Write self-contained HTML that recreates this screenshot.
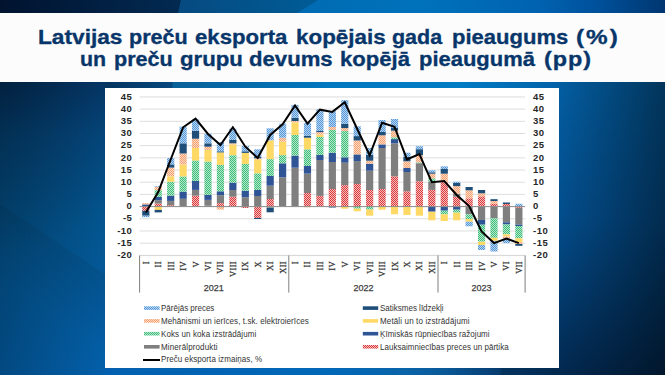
<!DOCTYPE html>
<html><head><meta charset="utf-8">
<style>
html,body{margin:0;padding:0;}
body{width:665px;height:375px;overflow:hidden;position:relative;font-family:"Liberation Sans",sans-serif;background:#0a3a6e;}
#bg{position:absolute;left:0;top:0;}
#title{position:absolute;left:0;top:12.5px;width:665px;height:69px;background:#fcfcfc;}
.t{position:absolute;white-space:nowrap;color:#08366a;-webkit-text-stroke:0.35px #08366a;font-weight:bold;font-size:22px;line-height:25px;transform-origin:0 20.1px;}
#chart{position:absolute;left:105px;top:88px;width:454px;height:280px;background:#fff;}
#svg{position:absolute;left:0;top:0;}
.yl,.yr{position:absolute;font-weight:bold;font-size:9.5px;line-height:11px;color:#262626;white-space:nowrap;letter-spacing:0.5px;}
.yl{right:532.6px;text-align:right;}
.yr{left:533px;}
.xl{position:absolute;top:261.3px;letter-spacing:0.35px;width:10px;margin-left:-5px;writing-mode:vertical-rl;transform:rotate(180deg);font-family:"Liberation Serif",serif;font-size:8.5px;line-height:10px;color:#333;-webkit-text-stroke:0.25px #333;}
.xl span{}
.yr2{}
.lg{position:absolute;font-size:8px;line-height:11px;color:#333;white-space:nowrap;transform:scaleY(1.1);transform-origin:0 8.14px;}
.yr3{}
.yrx{}
.yrlab{position:absolute;top:283.7px;width:100px;text-align:center;font-size:9px;line-height:9px;color:#404040;-webkit-text-stroke:0.25px #404040;}
</style></head><body>
<svg id="bg" width="665" height="375" viewBox="0 0 665 375">
<defs>
<linearGradient id="gT1" gradientUnits="userSpaceOnUse" x1="0" y1="0" x2="182" y2="0">
<stop offset="0" stop-color="#01132f"/><stop offset="1" stop-color="#022a52"/>
</linearGradient>
<linearGradient id="gT2" gradientUnits="userSpaceOnUse" x1="178" y1="0" x2="318" y2="0">
<stop offset="0" stop-color="#064a80"/><stop offset="1" stop-color="#005c96"/>
</linearGradient>
<linearGradient id="gT3" gradientUnits="userSpaceOnUse" x1="297" y1="0" x2="665" y2="0">
<stop offset="0" stop-color="#006bb2"/><stop offset="0.33" stop-color="#0072bb"/><stop offset="0.66" stop-color="#0062b0"/><stop offset="0.82" stop-color="#00509a"/><stop offset="1" stop-color="#003670"/>
</linearGradient>
<linearGradient id="gLv" gradientUnits="userSpaceOnUse" x1="0" y1="81" x2="0" y2="375">
<stop offset="0" stop-color="#043a6e"/><stop offset="0.18" stop-color="#044b84"/><stop offset="0.47" stop-color="#03558f"/><stop offset="1" stop-color="#0360aa"/>
</linearGradient>
<radialGradient id="gLr" gradientUnits="userSpaceOnUse" cx="0" cy="81" r="170">
<stop offset="0" stop-color="#000" stop-opacity="0.25"/><stop offset="1" stop-color="#000" stop-opacity="0"/>
</radialGradient>
<linearGradient id="gLh" gradientUnits="userSpaceOnUse" x1="0" y1="0" x2="105" y2="0">
<stop offset="0" stop-color="#000" stop-opacity="0.24"/><stop offset="1" stop-color="#000" stop-opacity="0"/>
</linearGradient>
<linearGradient id="gRv" gradientUnits="userSpaceOnUse" x1="0" y1="81" x2="0" y2="375">
<stop offset="0" stop-color="#035ea2"/><stop offset="0.47" stop-color="#034d8c"/><stop offset="1" stop-color="#02284f"/>
</linearGradient>
<linearGradient id="gRh" gradientUnits="userSpaceOnUse" x1="559" y1="0" x2="665" y2="0">
<stop offset="0" stop-color="#000" stop-opacity="0"/><stop offset="1" stop-color="#000" stop-opacity="0.44"/>
</linearGradient>
<linearGradient id="gS" gradientUnits="userSpaceOnUse" x1="105" y1="0" x2="559" y2="0">
<stop offset="0" stop-color="#04345f"/><stop offset="0.147" stop-color="#06487e"/><stop offset="0.15" stop-color="#0a6098"/><stop offset="0.5" stop-color="#0078c0"/><stop offset="0.78" stop-color="#007cc4"/><stop offset="1" stop-color="#0060a8"/>
</linearGradient>
<linearGradient id="gB" gradientUnits="userSpaceOnUse" x1="105" y1="0" x2="559" y2="0">
<stop offset="0" stop-color="#0360b0"/><stop offset="0.5" stop-color="#0068b8"/><stop offset="0.66" stop-color="#0a64a8"/><stop offset="0.74" stop-color="#0a5a9a"/><stop offset="0.868" stop-color="#073c70"/><stop offset="0.875" stop-color="#04325e"/><stop offset="1" stop-color="#022a50"/>
</linearGradient>
<linearGradient id="gLd" gradientUnits="userSpaceOnUse" x1="53" y1="239.5" x2="18" y2="292.5">
<stop offset="0" stop-color="#000" stop-opacity="0.07"/><stop offset="1" stop-color="#000" stop-opacity="0"/>
</linearGradient>
</defs>
<rect x="0" y="0" width="665" height="375" fill="#0a4a88"/>
<rect x="0" y="0" width="182" height="13" fill="url(#gT1)"/>
<polygon points="181,0 318,0 297,13 178,13" fill="url(#gT2)"/>
<polygon points="318,0 665,0 665,13 297,13" fill="url(#gT3)"/>
<rect x="0" y="80" width="105" height="295" fill="url(#gLv)"/>
<rect x="0" y="80" width="105" height="295" fill="url(#gLh)"/>
<rect x="0" y="80" width="105" height="295" fill="url(#gLr)"/>
<polygon points="0,204 106,275 106,375 0,375" fill="url(#gLd)"/>
<rect x="559" y="80" width="106" height="295" fill="url(#gRv)"/>
<rect x="559" y="80" width="106" height="295" fill="url(#gRh)"/>
<rect x="105" y="81" width="454" height="7" fill="url(#gS)"/>
<rect x="105" y="368" width="454" height="7" fill="url(#gB)"/>
</svg>
<div id="title"></div>
<div class="t" style="left:37.97px;top:23.9px;letter-spacing:0px;transform:scale(1.0312,0.93)">Latvijas</div>
<div class="t" style="left:128.82px;top:23.9px;letter-spacing:0px;transform:scale(0.9810,0.93)">preču</div>
<div class="t" style="left:195.29px;top:23.9px;letter-spacing:0px;transform:scale(1.0077,0.93)">eksporta</div>
<div class="t" style="left:296.28px;top:23.9px;letter-spacing:0px;transform:scale(1.0186,0.93)">kopējais</div>
<div class="t" style="left:392.22px;top:23.9px;letter-spacing:0px;transform:scale(0.9765,0.93)">gada</div>
<div class="t" style="left:451.6px;top:23.9px;letter-spacing:0px;transform:scale(1.0009,0.93)">pieaugums</div>
<div class="t" style="left:575.5px;top:23.9px;letter-spacing:1.8px;transform:scale(1.1038,0.93)">(%)</div>
<div class="t" style="left:79.93px;top:45.9px;letter-spacing:0px;transform:scale(0.9720,0.93)">un</div>
<div class="t" style="left:113.92px;top:45.9px;letter-spacing:0px;transform:scale(0.9810,0.93)">preču</div>
<div class="t" style="left:180.19px;top:45.9px;letter-spacing:0px;transform:scale(1.0100,0.93)">grupu</div>
<div class="t" style="left:249.09px;top:45.9px;letter-spacing:0px;transform:scale(1.0061,0.93)">devums</div>
<div class="t" style="left:340.1px;top:45.9px;letter-spacing:0px;transform:scale(1.0029,0.93)">kopējā</div>
<div class="t" style="left:419px;top:45.9px;letter-spacing:0px;transform:scale(0.9983,0.93)">pieaugumā</div>
<div class="t" style="left:543.54px;top:45.9px;letter-spacing:0.9px;transform:scale(1.0632,0.93)">(pp)</div>
<div id="chart"></div>
<svg id="svg" width="665" height="375" viewBox="0 0 665 375">
<defs>
<pattern id="pA" width="2" height="2" patternUnits="userSpaceOnUse"><rect width="2" height="2" fill="#f5bdbd"/><rect width="1" height="1" fill="#da3a3a"/><rect x="1" y="1" width="1" height="1" fill="#da3a3a"/></pattern><pattern id="pW" width="2" height="2" patternUnits="userSpaceOnUse"><rect width="2" height="2" fill="#b4e8cb"/><rect width="1" height="1" fill="#40bd7a"/><rect x="1" y="1" width="1" height="1" fill="#40bd7a"/></pattern><pattern id="pO" width="2" height="2" patternUnits="userSpaceOnUse"><rect width="2" height="2" fill="#fcd9c2"/><rect width="1" height="1" fill="#f3a170"/><rect x="1" y="1" width="1" height="1" fill="#f3a170"/></pattern><pattern id="pP" width="2" height="2" patternUnits="userSpaceOnUse"><rect width="2" height="2" fill="#b6d5f2"/><rect width="1" height="1" fill="#5596d6"/><rect x="1" y="1" width="1" height="1" fill="#5596d6"/></pattern>
</defs>
<line x1="139.6" x2="525.1" y1="96.94" y2="96.94" stroke="#dedede" stroke-width="1"/>
<line x1="139.6" x2="525.1" y1="109.12" y2="109.12" stroke="#dedede" stroke-width="1"/>
<line x1="139.6" x2="525.1" y1="121.31" y2="121.31" stroke="#dedede" stroke-width="1"/>
<line x1="139.6" x2="525.1" y1="133.49" y2="133.49" stroke="#dedede" stroke-width="1"/>
<line x1="139.6" x2="525.1" y1="145.68" y2="145.68" stroke="#dedede" stroke-width="1"/>
<line x1="139.6" x2="525.1" y1="157.86" y2="157.86" stroke="#dedede" stroke-width="1"/>
<line x1="139.6" x2="525.1" y1="170.04" y2="170.04" stroke="#dedede" stroke-width="1"/>
<line x1="139.6" x2="525.1" y1="182.23" y2="182.23" stroke="#dedede" stroke-width="1"/>
<line x1="139.6" x2="525.1" y1="194.41" y2="194.41" stroke="#dedede" stroke-width="1"/>
<line x1="139.6" x2="525.1" y1="218.78" y2="218.78" stroke="#dedede" stroke-width="1"/>
<line x1="139.6" x2="525.1" y1="230.97" y2="230.97" stroke="#dedede" stroke-width="1"/>
<line x1="139.6" x2="525.1" y1="243.16" y2="243.16" stroke="#dedede" stroke-width="1"/>
<line x1="139.6" x2="525.1" y1="255.34" y2="255.34" stroke="#dedede" stroke-width="1"/>
<rect x="142.22" y="204.4" width="7.2" height="2.2" fill="#2f5597"/>
<rect x="142.22" y="203.1" width="7.2" height="1.3" fill="url(#pO)"/>
<rect x="142.22" y="206.6" width="7.2" height="4.2" fill="url(#pA)"/>
<rect x="142.22" y="210.8" width="7.2" height="4.9" fill="#1f4e79"/>
<rect x="142.22" y="215.7" width="7.2" height="1.5" fill="url(#pP)"/>
<rect x="154.65" y="203.5" width="7.2" height="3.1" fill="url(#pA)"/>
<rect x="154.65" y="200.2" width="7.2" height="3.3" fill="#7f7f7f"/>
<rect x="154.65" y="196.8" width="7.2" height="3.4" fill="#2f5597"/>
<rect x="154.65" y="190.1" width="7.2" height="6.7" fill="url(#pW)"/>
<rect x="154.65" y="186.7" width="7.2" height="3.4" fill="url(#pO)"/>
<rect x="154.65" y="186" width="7.2" height="0.7" fill="url(#pP)"/>
<rect x="154.65" y="206.6" width="7.2" height="3.3" fill="#ffd966"/>
<rect x="154.65" y="209.9" width="7.2" height="2.5" fill="#1f4e79"/>
<rect x="167.09" y="205.2" width="7.2" height="1.4" fill="url(#pA)"/>
<rect x="167.09" y="200.9" width="7.2" height="4.3" fill="#7f7f7f"/>
<rect x="167.09" y="195.6" width="7.2" height="5.3" fill="#2f5597"/>
<rect x="167.09" y="181.7" width="7.2" height="13.9" fill="url(#pW)"/>
<rect x="167.09" y="176.4" width="7.2" height="5.3" fill="#ffd966"/>
<rect x="167.09" y="167.6" width="7.2" height="8.8" fill="url(#pO)"/>
<rect x="167.09" y="164.4" width="7.2" height="3.2" fill="#1f4e79"/>
<rect x="167.09" y="158" width="7.2" height="6.4" fill="url(#pP)"/>
<rect x="179.52" y="198.8" width="7.2" height="7.8" fill="#7f7f7f"/>
<rect x="179.52" y="191.6" width="7.2" height="7.2" fill="#2f5597"/>
<rect x="179.52" y="176.4" width="7.2" height="15.2" fill="url(#pW)"/>
<rect x="179.52" y="164.4" width="7.2" height="12" fill="#ffd966"/>
<rect x="179.52" y="153.5" width="7.2" height="10.9" fill="url(#pO)"/>
<rect x="179.52" y="143.3" width="7.2" height="10.2" fill="#1f4e79"/>
<rect x="179.52" y="126.7" width="7.2" height="16.6" fill="url(#pP)"/>
<rect x="191.96" y="195.7" width="7.2" height="10.9" fill="url(#pA)"/>
<rect x="191.96" y="189.9" width="7.2" height="5.8" fill="#7f7f7f"/>
<rect x="191.96" y="180.9" width="7.2" height="9" fill="#2f5597"/>
<rect x="191.96" y="160.5" width="7.2" height="20.4" fill="url(#pW)"/>
<rect x="191.96" y="148" width="7.2" height="12.5" fill="#ffd966"/>
<rect x="191.96" y="138.7" width="7.2" height="9.3" fill="url(#pO)"/>
<rect x="191.96" y="130.7" width="7.2" height="8" fill="#1f4e79"/>
<rect x="191.96" y="119.3" width="7.2" height="11.4" fill="url(#pP)"/>
<rect x="204.39" y="205.8" width="7.2" height="0.8" fill="url(#pA)"/>
<rect x="204.39" y="199.9" width="7.2" height="5.9" fill="#7f7f7f"/>
<rect x="204.39" y="194.8" width="7.2" height="5.1" fill="#2f5597"/>
<rect x="204.39" y="161.5" width="7.2" height="33.3" fill="url(#pW)"/>
<rect x="204.39" y="150" width="7.2" height="11.5" fill="#ffd966"/>
<rect x="204.39" y="146.7" width="7.2" height="3.3" fill="url(#pO)"/>
<rect x="204.39" y="143.3" width="7.2" height="3.4" fill="#1f4e79"/>
<rect x="204.39" y="133.7" width="7.2" height="9.6" fill="url(#pP)"/>
<rect x="216.83" y="203.1" width="7.2" height="3.5" fill="url(#pA)"/>
<rect x="216.83" y="195.2" width="7.2" height="7.9" fill="#7f7f7f"/>
<rect x="216.83" y="191.3" width="7.2" height="3.9" fill="#2f5597"/>
<rect x="216.83" y="164.9" width="7.2" height="26.4" fill="url(#pW)"/>
<rect x="216.83" y="152.4" width="7.2" height="12.5" fill="#ffd966"/>
<rect x="216.83" y="151.3" width="7.2" height="1.1" fill="#1f4e79"/>
<rect x="216.83" y="142" width="7.2" height="9.3" fill="url(#pP)"/>
<rect x="216.83" y="206.6" width="7.2" height="3" fill="url(#pO)"/>
<rect x="229.26" y="196.7" width="7.2" height="9.9" fill="url(#pA)"/>
<rect x="229.26" y="190" width="7.2" height="6.7" fill="#7f7f7f"/>
<rect x="229.26" y="182.7" width="7.2" height="7.3" fill="#2f5597"/>
<rect x="229.26" y="155.2" width="7.2" height="27.5" fill="url(#pW)"/>
<rect x="229.26" y="144.4" width="7.2" height="10.8" fill="#ffd966"/>
<rect x="229.26" y="143.3" width="7.2" height="1.1" fill="url(#pO)"/>
<rect x="229.26" y="140" width="7.2" height="3.3" fill="#1f4e79"/>
<rect x="229.26" y="128.7" width="7.2" height="11.3" fill="url(#pP)"/>
<rect x="241.7" y="197.3" width="7.2" height="9.3" fill="#7f7f7f"/>
<rect x="241.7" y="190.7" width="7.2" height="6.6" fill="#2f5597"/>
<rect x="241.7" y="164" width="7.2" height="26.7" fill="url(#pW)"/>
<rect x="241.7" y="152.9" width="7.2" height="11.1" fill="#ffd966"/>
<rect x="241.7" y="151.3" width="7.2" height="1.6" fill="#1f4e79"/>
<rect x="241.7" y="146" width="7.2" height="5.3" fill="url(#pP)"/>
<rect x="241.7" y="206.6" width="7.2" height="1.4" fill="url(#pA)"/>
<rect x="254.13" y="196" width="7.2" height="10.6" fill="#7f7f7f"/>
<rect x="254.13" y="190" width="7.2" height="6" fill="#2f5597"/>
<rect x="254.13" y="173.3" width="7.2" height="16.7" fill="url(#pW)"/>
<rect x="254.13" y="159.3" width="7.2" height="14" fill="#ffd966"/>
<rect x="254.13" y="158.3" width="7.2" height="1" fill="url(#pO)"/>
<rect x="254.13" y="156.7" width="7.2" height="1.6" fill="#1f4e79"/>
<rect x="254.13" y="149.3" width="7.2" height="7.4" fill="url(#pP)"/>
<rect x="254.13" y="206.6" width="7.2" height="11.4" fill="url(#pA)"/>
<rect x="254.13" y="218" width="7.2" height="1" fill="#1f4e79"/>
<rect x="266.57" y="199" width="7.2" height="7.6" fill="url(#pA)"/>
<rect x="266.57" y="185.7" width="7.2" height="13.3" fill="#7f7f7f"/>
<rect x="266.57" y="176" width="7.2" height="9.7" fill="#2f5597"/>
<rect x="266.57" y="159.1" width="7.2" height="16.9" fill="url(#pW)"/>
<rect x="266.57" y="140.3" width="7.2" height="18.8" fill="#ffd966"/>
<rect x="266.57" y="128.3" width="7.2" height="12" fill="url(#pP)"/>
<rect x="266.57" y="206.6" width="7.2" height="0.9" fill="url(#pO)"/>
<rect x="266.57" y="207.5" width="7.2" height="4.8" fill="#1f4e79"/>
<rect x="279" y="206.1" width="7.2" height="0.5" fill="url(#pA)"/>
<rect x="279" y="177.3" width="7.2" height="28.8" fill="#7f7f7f"/>
<rect x="279" y="163.3" width="7.2" height="14" fill="#2f5597"/>
<rect x="279" y="155.1" width="7.2" height="8.2" fill="url(#pW)"/>
<rect x="279" y="141.7" width="7.2" height="13.4" fill="#ffd966"/>
<rect x="279" y="137.7" width="7.2" height="4" fill="url(#pO)"/>
<rect x="279" y="123.7" width="7.2" height="14" fill="url(#pP)"/>
<rect x="291.44" y="206.1" width="7.2" height="0.5" fill="url(#pA)"/>
<rect x="291.44" y="167.7" width="7.2" height="38.4" fill="#7f7f7f"/>
<rect x="291.44" y="155.6" width="7.2" height="12.1" fill="#2f5597"/>
<rect x="291.44" y="135" width="7.2" height="20.6" fill="url(#pW)"/>
<rect x="291.44" y="122.3" width="7.2" height="12.7" fill="#ffd966"/>
<rect x="291.44" y="121" width="7.2" height="1.3" fill="url(#pO)"/>
<rect x="291.44" y="117.7" width="7.2" height="3.3" fill="#1f4e79"/>
<rect x="291.44" y="104.9" width="7.2" height="12.8" fill="url(#pP)"/>
<rect x="303.87" y="193" width="7.2" height="13.6" fill="url(#pA)"/>
<rect x="303.87" y="173.6" width="7.2" height="19.4" fill="#7f7f7f"/>
<rect x="303.87" y="166" width="7.2" height="7.6" fill="#2f5597"/>
<rect x="303.87" y="149.3" width="7.2" height="16.7" fill="url(#pW)"/>
<rect x="303.87" y="137.7" width="7.2" height="11.6" fill="#ffd966"/>
<rect x="303.87" y="135.7" width="7.2" height="2" fill="#1f4e79"/>
<rect x="303.87" y="123" width="7.2" height="12.7" fill="url(#pP)"/>
<rect x="303.87" y="206.6" width="7.2" height="0.7" fill="url(#pO)"/>
<rect x="316.31" y="195.9" width="7.2" height="10.7" fill="url(#pA)"/>
<rect x="316.31" y="160" width="7.2" height="35.9" fill="#7f7f7f"/>
<rect x="316.31" y="154.9" width="7.2" height="5.1" fill="#2f5597"/>
<rect x="316.31" y="137" width="7.2" height="17.9" fill="url(#pW)"/>
<rect x="316.31" y="134.7" width="7.2" height="2.3" fill="#ffd966"/>
<rect x="316.31" y="132.1" width="7.2" height="2.6" fill="url(#pO)"/>
<rect x="316.31" y="131" width="7.2" height="1.1" fill="#1f4e79"/>
<rect x="316.31" y="109.2" width="7.2" height="21.8" fill="url(#pP)"/>
<rect x="328.74" y="189" width="7.2" height="17.6" fill="url(#pA)"/>
<rect x="328.74" y="162" width="7.2" height="27" fill="#7f7f7f"/>
<rect x="328.74" y="152.7" width="7.2" height="9.3" fill="#2f5597"/>
<rect x="328.74" y="130" width="7.2" height="22.7" fill="url(#pW)"/>
<rect x="328.74" y="127" width="7.2" height="3" fill="url(#pO)"/>
<rect x="328.74" y="111.3" width="7.2" height="15.7" fill="url(#pP)"/>
<rect x="328.74" y="206.6" width="7.2" height="0.9" fill="#1f4e79"/>
<rect x="341.18" y="185.1" width="7.2" height="21.5" fill="url(#pA)"/>
<rect x="341.18" y="162.7" width="7.2" height="22.4" fill="#7f7f7f"/>
<rect x="341.18" y="157.3" width="7.2" height="5.4" fill="#2f5597"/>
<rect x="341.18" y="131" width="7.2" height="26.3" fill="url(#pW)"/>
<rect x="341.18" y="128.1" width="7.2" height="2.9" fill="url(#pO)"/>
<rect x="341.18" y="123.7" width="7.2" height="4.4" fill="#1f4e79"/>
<rect x="341.18" y="100.1" width="7.2" height="23.6" fill="url(#pP)"/>
<rect x="341.18" y="206.6" width="7.2" height="2.1" fill="#ffd966"/>
<rect x="353.61" y="184" width="7.2" height="22.6" fill="url(#pA)"/>
<rect x="353.61" y="161.1" width="7.2" height="22.9" fill="#7f7f7f"/>
<rect x="353.61" y="154.4" width="7.2" height="6.7" fill="#2f5597"/>
<rect x="353.61" y="140.5" width="7.2" height="13.9" fill="url(#pO)"/>
<rect x="353.61" y="136.1" width="7.2" height="4.4" fill="#1f4e79"/>
<rect x="353.61" y="126.3" width="7.2" height="9.8" fill="url(#pP)"/>
<rect x="353.61" y="206.6" width="7.2" height="2.1" fill="url(#pW)"/>
<rect x="353.61" y="208.7" width="7.2" height="2.6" fill="#ffd966"/>
<rect x="366.05" y="190" width="7.2" height="16.6" fill="url(#pA)"/>
<rect x="366.05" y="170.7" width="7.2" height="19.3" fill="#7f7f7f"/>
<rect x="366.05" y="163.7" width="7.2" height="7" fill="#2f5597"/>
<rect x="366.05" y="160.7" width="7.2" height="3" fill="url(#pO)"/>
<rect x="366.05" y="154.7" width="7.2" height="6" fill="#1f4e79"/>
<rect x="366.05" y="148" width="7.2" height="6.7" fill="url(#pP)"/>
<rect x="366.05" y="206.6" width="7.2" height="3" fill="url(#pW)"/>
<rect x="366.05" y="209.6" width="7.2" height="6.1" fill="#ffd966"/>
<rect x="378.48" y="189" width="7.2" height="17.6" fill="url(#pA)"/>
<rect x="378.48" y="148" width="7.2" height="41" fill="#7f7f7f"/>
<rect x="378.48" y="144.4" width="7.2" height="3.6" fill="#2f5597"/>
<rect x="378.48" y="135.3" width="7.2" height="9.1" fill="url(#pO)"/>
<rect x="378.48" y="132" width="7.2" height="3.3" fill="#1f4e79"/>
<rect x="378.48" y="120" width="7.2" height="12" fill="url(#pP)"/>
<rect x="378.48" y="206.6" width="7.2" height="3.1" fill="#ffd966"/>
<rect x="390.92" y="176.3" width="7.2" height="30.3" fill="url(#pA)"/>
<rect x="390.92" y="143.3" width="7.2" height="33" fill="#7f7f7f"/>
<rect x="390.92" y="139.1" width="7.2" height="4.2" fill="#2f5597"/>
<rect x="390.92" y="137.3" width="7.2" height="1.8" fill="url(#pW)"/>
<rect x="390.92" y="130.7" width="7.2" height="6.6" fill="url(#pO)"/>
<rect x="390.92" y="128" width="7.2" height="2.7" fill="#1f4e79"/>
<rect x="390.92" y="119" width="7.2" height="9" fill="url(#pP)"/>
<rect x="390.92" y="206.6" width="7.2" height="7.7" fill="#ffd966"/>
<rect x="403.35" y="191.3" width="7.2" height="15.3" fill="url(#pA)"/>
<rect x="403.35" y="172" width="7.2" height="19.3" fill="#7f7f7f"/>
<rect x="403.35" y="168" width="7.2" height="4" fill="#2f5597"/>
<rect x="403.35" y="161.3" width="7.2" height="6.7" fill="url(#pO)"/>
<rect x="403.35" y="156.7" width="7.2" height="4.6" fill="#1f4e79"/>
<rect x="403.35" y="152.7" width="7.2" height="4" fill="url(#pP)"/>
<rect x="403.35" y="206.6" width="7.2" height="8.4" fill="#ffd966"/>
<rect x="415.79" y="181.2" width="7.2" height="25.4" fill="url(#pA)"/>
<rect x="415.79" y="163.2" width="7.2" height="18" fill="#7f7f7f"/>
<rect x="415.79" y="162.4" width="7.2" height="0.8" fill="url(#pW)"/>
<rect x="415.79" y="155.2" width="7.2" height="7.2" fill="url(#pO)"/>
<rect x="415.79" y="149.2" width="7.2" height="6" fill="#1f4e79"/>
<rect x="415.79" y="146.2" width="7.2" height="3" fill="url(#pP)"/>
<rect x="415.79" y="206.6" width="7.2" height="9.1" fill="#ffd966"/>
<rect x="428.22" y="189.9" width="7.2" height="16.7" fill="url(#pA)"/>
<rect x="428.22" y="181.7" width="7.2" height="8.2" fill="#7f7f7f"/>
<rect x="428.22" y="178.3" width="7.2" height="3.4" fill="url(#pW)"/>
<rect x="428.22" y="173.7" width="7.2" height="4.6" fill="url(#pO)"/>
<rect x="428.22" y="172.3" width="7.2" height="1.4" fill="#1f4e79"/>
<rect x="428.22" y="170.3" width="7.2" height="2" fill="url(#pP)"/>
<rect x="428.22" y="206.6" width="7.2" height="5.1" fill="#2f5597"/>
<rect x="428.22" y="211.7" width="7.2" height="8.6" fill="#ffd966"/>
<rect x="440.66" y="181.7" width="7.2" height="24.9" fill="url(#pA)"/>
<rect x="440.66" y="173.7" width="7.2" height="8" fill="url(#pO)"/>
<rect x="440.66" y="169" width="7.2" height="4.7" fill="#1f4e79"/>
<rect x="440.66" y="166.3" width="7.2" height="2.7" fill="url(#pP)"/>
<rect x="440.66" y="206.6" width="7.2" height="4.1" fill="#2f5597"/>
<rect x="440.66" y="210.7" width="7.2" height="3.6" fill="url(#pW)"/>
<rect x="440.66" y="214.3" width="7.2" height="6.7" fill="#ffd966"/>
<rect x="453.09" y="196.7" width="7.2" height="9.9" fill="url(#pA)"/>
<rect x="453.09" y="193.7" width="7.2" height="3" fill="#7f7f7f"/>
<rect x="453.09" y="186.1" width="7.2" height="7.6" fill="url(#pO)"/>
<rect x="453.09" y="183" width="7.2" height="3.1" fill="#1f4e79"/>
<rect x="453.09" y="181.7" width="7.2" height="1.3" fill="url(#pP)"/>
<rect x="453.09" y="206.6" width="7.2" height="3.1" fill="#2f5597"/>
<rect x="453.09" y="209.7" width="7.2" height="3" fill="url(#pW)"/>
<rect x="453.09" y="212.7" width="7.2" height="7.6" fill="#ffd966"/>
<rect x="465.53" y="198.3" width="7.2" height="8.3" fill="url(#pA)"/>
<rect x="465.53" y="190.3" width="7.2" height="8" fill="url(#pO)"/>
<rect x="465.53" y="187" width="7.2" height="3.3" fill="#1f4e79"/>
<rect x="465.53" y="206.6" width="7.2" height="7.7" fill="#7f7f7f"/>
<rect x="465.53" y="214.3" width="7.2" height="4.7" fill="url(#pW)"/>
<rect x="465.53" y="219" width="7.2" height="2.7" fill="#ffd966"/>
<rect x="465.53" y="221.7" width="7.2" height="4.6" fill="url(#pP)"/>
<rect x="477.96" y="196.3" width="7.2" height="10.3" fill="url(#pA)"/>
<rect x="477.96" y="193.3" width="7.2" height="3" fill="url(#pO)"/>
<rect x="477.96" y="190" width="7.2" height="3.3" fill="#1f4e79"/>
<rect x="477.96" y="206.6" width="7.2" height="13.3" fill="#7f7f7f"/>
<rect x="477.96" y="219.9" width="7.2" height="4.8" fill="#2f5597"/>
<rect x="477.96" y="224.7" width="7.2" height="17" fill="url(#pW)"/>
<rect x="477.96" y="241.7" width="7.2" height="3.3" fill="#ffd966"/>
<rect x="477.96" y="245" width="7.2" height="5" fill="url(#pP)"/>
<rect x="490.4" y="203.8" width="7.2" height="2.8" fill="url(#pA)"/>
<rect x="490.4" y="201" width="7.2" height="2.8" fill="url(#pO)"/>
<rect x="490.4" y="199.2" width="7.2" height="1.8" fill="#1f4e79"/>
<rect x="490.4" y="206.6" width="7.2" height="11.7" fill="#7f7f7f"/>
<rect x="490.4" y="218.3" width="7.2" height="19.5" fill="url(#pW)"/>
<rect x="490.4" y="237.8" width="7.2" height="3.1" fill="#ffd966"/>
<rect x="490.4" y="240.9" width="7.2" height="10.6" fill="url(#pP)"/>
<rect x="502.83" y="204" width="7.2" height="2.6" fill="url(#pA)"/>
<rect x="502.83" y="202.5" width="7.2" height="1.5" fill="#1f4e79"/>
<rect x="502.83" y="206.6" width="7.2" height="15.7" fill="#7f7f7f"/>
<rect x="502.83" y="222.3" width="7.2" height="2.2" fill="#2f5597"/>
<rect x="502.83" y="224.5" width="7.2" height="9.8" fill="url(#pW)"/>
<rect x="502.83" y="234.3" width="7.2" height="2.2" fill="#ffd966"/>
<rect x="502.83" y="236.5" width="7.2" height="1.8" fill="url(#pO)"/>
<rect x="502.83" y="238.3" width="7.2" height="4.8" fill="url(#pP)"/>
<rect x="515.27" y="203.8" width="7.2" height="2.8" fill="url(#pP)"/>
<rect x="515.27" y="206.6" width="7.2" height="1.2" fill="url(#pA)"/>
<rect x="515.27" y="207.8" width="7.2" height="16.8" fill="#7f7f7f"/>
<rect x="515.27" y="224.6" width="7.2" height="1.4" fill="#2f5597"/>
<rect x="515.27" y="226" width="7.2" height="12.3" fill="url(#pW)"/>
<rect x="515.27" y="238.3" width="7.2" height="3.9" fill="#ffd966"/>
<rect x="515.27" y="242.2" width="7.2" height="1.8" fill="url(#pO)"/>
<rect x="515.27" y="244" width="7.2" height="1.8" fill="#1f4e79"/>
<line x1="139.6" x2="525.1" y1="206.6" y2="206.6" stroke="#8c8c8c" stroke-width="1"/>
<line x1="139.6" x2="525.1" y1="255.5" y2="255.5" stroke="#d9d9d9" stroke-width="1"/>
<polyline points="145.82,212.5 158.25,192 170.69,159.5 183.12,127.3 195.56,118.7 207.99,134 220.43,145 232.86,127.3 245.3,146.7 257.73,158 270.17,135 282.6,124.3 295.04,105.5 307.47,123.6 319.91,109.7 332.34,111.9 344.78,102.3 357.21,129 369.65,155.3 382.08,122.7 394.52,126.7 406.95,159.3 419.39,154 431.82,182.3 444.26,181 456.69,195 469.13,206 481.56,231.5 494,243.1 506.43,238.5 518.87,243.1" fill="none" stroke="#000" stroke-width="2" stroke-linejoin="miter"/>
<line x1="139.6" x2="139.6" y1="255.5" y2="292.6" stroke="#7f7f7f" stroke-width="1"/>
<line x1="288.8" x2="288.8" y1="255.5" y2="292.6" stroke="#7f7f7f" stroke-width="1"/>
<line x1="438" x2="438" y1="255.5" y2="292.6" stroke="#7f7f7f" stroke-width="1"/>
<line x1="525.1" x2="525.1" y1="255.5" y2="292.6" stroke="#7f7f7f" stroke-width="1"/>
<rect x="144" y="306.3" width="15.6" height="3.6" fill="url(#pP)"/>
<rect x="144" y="319.1" width="15.6" height="3.6" fill="url(#pO)"/>
<rect x="144" y="331.9" width="15.6" height="3.6" fill="url(#pW)"/>
<rect x="144" y="345" width="15.6" height="3.6" fill="#7f7f7f"/>
<rect x="143" y="359" width="17" height="2" fill="#000"/>
<rect x="362.8" y="306.3" width="15.4" height="3.6" fill="#1f4e79"/>
<rect x="362.8" y="319.1" width="15.4" height="3.6" fill="#ffd966"/>
<rect x="362.8" y="331.9" width="15.4" height="3.6" fill="#2f5597"/>
<rect x="362.8" y="345" width="15.4" height="3.6" fill="url(#pA)"/>
</svg>
<div class="yl" style="top:90.64px">45</div>
<div class="yr" style="top:90.64px">45</div>
<div class="yl" style="top:102.82px">40</div>
<div class="yr" style="top:102.82px">40</div>
<div class="yl" style="top:115.01px">35</div>
<div class="yr" style="top:115.01px">35</div>
<div class="yl" style="top:127.19px">30</div>
<div class="yr" style="top:127.19px">30</div>
<div class="yl" style="top:139.38px">25</div>
<div class="yr" style="top:139.38px">25</div>
<div class="yl" style="top:151.56px">20</div>
<div class="yr" style="top:151.56px">20</div>
<div class="yl" style="top:163.74px">15</div>
<div class="yr" style="top:163.74px">15</div>
<div class="yl" style="top:175.93px">10</div>
<div class="yr" style="top:175.93px">10</div>
<div class="yl" style="top:188.11px">5</div>
<div class="yr" style="top:188.11px">5</div>
<div class="yl" style="top:200.3px">0</div>
<div class="yr" style="top:200.3px">0</div>
<div class="yl" style="top:212.48px">-5</div>
<div class="yr" style="top:212.48px">-5</div>
<div class="yl" style="top:224.67px">-10</div>
<div class="yr" style="top:224.67px">-10</div>
<div class="yl" style="top:236.85px">-15</div>
<div class="yr" style="top:236.85px">-15</div>
<div class="yl" style="top:249.04px">-20</div>
<div class="yr" style="top:249.04px">-20</div>
<div class="xl" style="left:145.82px">I</div>
<div class="xl" style="left:158.25px">II</div>
<div class="xl" style="left:170.69px">III</div>
<div class="xl" style="left:183.12px">IV</div>
<div class="xl" style="left:195.56px">V</div>
<div class="xl" style="left:207.99px">VI</div>
<div class="xl" style="left:220.43px">VII</div>
<div class="xl" style="left:232.86px">VIII</div>
<div class="xl" style="left:245.3px">IX</div>
<div class="xl" style="left:257.73px">X</div>
<div class="xl" style="left:270.17px">XI</div>
<div class="xl" style="left:282.6px">XII</div>
<div class="xl" style="left:295.04px">I</div>
<div class="xl" style="left:307.47px">II</div>
<div class="xl" style="left:319.91px">III</div>
<div class="xl" style="left:332.34px">IV</div>
<div class="xl" style="left:344.78px">V</div>
<div class="xl" style="left:357.21px">VI</div>
<div class="xl" style="left:369.65px">VII</div>
<div class="xl" style="left:382.08px">VIII</div>
<div class="xl" style="left:394.52px">IX</div>
<div class="xl" style="left:406.95px">X</div>
<div class="xl" style="left:419.39px">XI</div>
<div class="xl" style="left:431.82px">XII</div>
<div class="xl" style="left:444.26px">I</div>
<div class="xl" style="left:456.69px">II</div>
<div class="xl" style="left:469.13px">III</div>
<div class="xl" style="left:481.56px">IV</div>
<div class="xl" style="left:494px">V</div>
<div class="xl" style="left:506.43px">VI</div>
<div class="xl" style="left:518.87px">VII</div>
<div class="yrlab" style="left:163.8px">2021</div>
<div class="yrlab" style="left:313.6px">2022</div>
<div class="yrlab" style="left:431.6px">2023</div>
<div class="lg" style="left:161px;top:303.16px;letter-spacing:0px">Pārējās preces</div>
<div class="lg" style="left:161px;top:315.96px;letter-spacing:0.08px">Mehānismi un ierīces, t.sk. elektroierīces</div>
<div class="lg" style="left:161px;top:328.76px;letter-spacing:0.1px">Koks un koka izstrādājumi</div>
<div class="lg" style="left:161px;top:341.86px;letter-spacing:0.13px">Minerālprodukti</div>
<div class="lg" style="left:161px;top:354.46px;letter-spacing:0.08px">Preču eksporta izmaiņas, %</div>
<div class="lg" style="left:380px;top:303.16px;letter-spacing:0px">Satiksmes līdzekļi</div>
<div class="lg" style="left:380px;top:315.96px;letter-spacing:0.14px">Metāli un to izstrādājumi</div>
<div class="lg" style="left:380px;top:328.76px;letter-spacing:0.04px">Ķīmiskās rūpniecības ražojumi</div>
<div class="lg" style="left:380px;top:341.86px;letter-spacing:0.03px">Lauksaimniecības preces un pārtika</div>
</body></html>
